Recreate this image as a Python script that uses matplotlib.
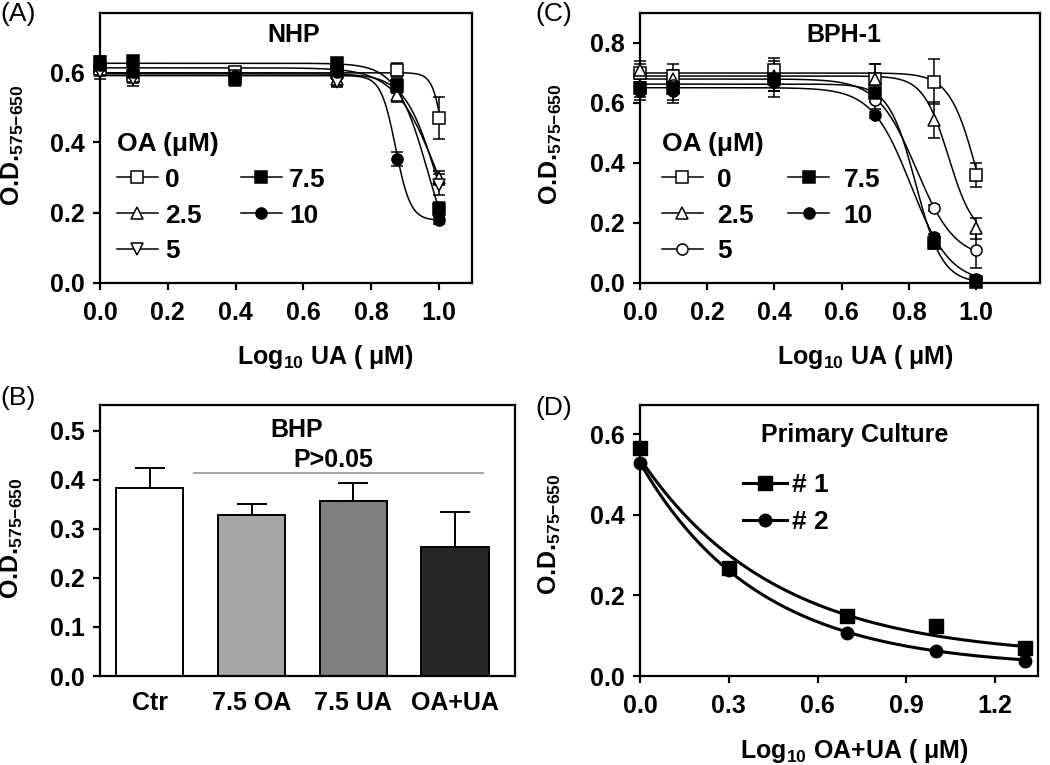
import numpy as np
import matplotlib
matplotlib.use("Agg")
import matplotlib.pyplot as plt
from matplotlib.legend_handler import HandlerTuple

# ---------------- data ----------------
log_ua = [0.0, 0.097, 0.398, 0.699, 0.875, 1.0]
oa_labels = ["0", "2.5", "5", "7.5", "10"]

# Panel A (NHP)
nhp_mean = {
    "0":   [0.61, 0.59, 0.60, 0.60, 0.605, 0.47],
    "2.5": [0.62, 0.60, 0.59, 0.58, 0.535, 0.30],
    "5":   [0.60, 0.58, 0.59, 0.572, 0.56, 0.28],
    "7.5": [0.63, 0.632, 0.58, 0.625, 0.56, 0.21],
    "10":  [0.62, 0.60, 0.59, 0.60, 0.352, 0.178],
}
nhp_err = {
    "0":   [0.02, 0.02, 0.015, 0.02, 0.02, 0.06],
    "2.5": [0.02, 0.02, 0.02, 0.02, 0.02, 0.02],
    "5":   [0.02, 0.02, 0.02, 0.015, 0.02, 0.03],
    "7.5": [0.015, 0.01, 0.02, 0.01, 0.02, 0.02],
    "10":  [0.02, 0.02, 0.02, 0.02, 0.02, 0.01],
}
# fitted 4PL parameters: top, bottom, logEC50, hill
nhp_fit = {
    "0":   [0.598, 0.0, 1.025, 25.0],
    "2.5": [0.612, 0.0, 0.9975, 6.9],
    "5":   [0.595, 0.0, 0.994, 9.1],
    "7.5": [0.625, 0.0, 0.968, 9.3],
    "10":  [0.59, 0.178, 0.872, 20.0],
}

# Panel C (BPH-1)
bph_mean = {
    "0":   [0.70, 0.69, 0.71, 0.68, 0.671, 0.36],
    "2.5": [0.71, 0.68, 0.69, 0.68, 0.543, 0.182],
    "5":   [0.65, 0.66, 0.67, 0.61, 0.249, 0.11],
    "7.5": [0.65, 0.65, 0.68, 0.632, 0.135, 0.005],
    "10":  [0.64, 0.64, 0.67, 0.56, 0.152, 0.012],
}
bph_err = {
    "0":   [0.03, 0.04, 0.04, 0.05, 0.075, 0.04],
    "2.5": [0.03, 0.03, 0.05, 0.05, 0.06, 0.035],
    "5":   [0.02, 0.03, 0.03, 0.03, 0.01, 0.06],
    "7.5": [0.03, 0.04, 0.04, 0.03, 0.02, 0.01],
    "10":  [0.03, 0.04, 0.05, 0.01, 0.01, 0.01],
}
bph_fit = {
    "0":   [0.70, 0.0, 1.007, 10.4],
    "2.5": [0.69, 0.15, 0.918, 11.5],
    "5":   [0.68, 0.08, 0.822, 7.55],
    "7.5": [0.663, 0.0, 0.82, 10.9],
    "10":  [0.651, 0.0, 0.806, 7.45],
}

# Panel B (BHP)
bhp_groups = ["Ctr", "7.5 OA", "7.5 UA", "OA+UA"]
bhp_mean = [0.383, 0.329, 0.357, 0.263]
bhp_err = [0.041, 0.023, 0.036, 0.072]
bhp_colors = ["#ffffff", "#a6a6a6", "#7f7f7f", "#262626"]
bhp_p_level = 0.415

# Panel D (Primary culture)
log_oaua = [0.0, 0.301, 0.699, 1.0, 1.301]
pc_labels = ["# 1", "# 2"]
pc_mean = {
    "# 1": [0.565, 0.267, 0.150, 0.124, 0.069],
    "# 2": [0.530, 0.262, 0.108, 0.063, 0.037],
}
# fitted one-phase decay: plateau, span, k
pc_fit = {
    "# 1": [0.045, 0.495, 2.2],
    "# 2": [0.02, 0.51, 2.49],
}

# ---------------- style ----------------
FS = 18
plt.rcParams.update({
    "font.family": ["Liberation Sans", "DejaVu Sans"],
    "font.weight": "bold",
    "font.size": FS,
    "mathtext.fontset": "custom",
    "mathtext.rm": "Liberation Sans",
    "mathtext.bf": "Liberation Sans:bold",
    "mathtext.it": "Liberation Sans:italic",
    "axes.linewidth": 1.6,
    "axes.labelweight": "bold",
    "xtick.major.width": 1.6,
    "ytick.major.width": 1.6,
    "xtick.major.size": 5,
    "ytick.major.size": 5,
    "xtick.major.pad": 8,
    "ytick.major.pad": 6,
})

W, H = 1050, 765
fig = plt.figure(figsize=(W / 100, H / 100), dpi=100)


def add_ax(l, t, r, b):
    return fig.add_axes([l / W, 1 - b / H, (r - l) / W, (b - t) / H])


def logistic(x, top, bottom, ec50, hill):
    return bottom + (top - bottom) / (1 + 10 ** ((x - ec50) * hill))


YLAB = r"O.D.$_{\mathbf{575{-}650}}$"
XLAB_UA = r"Log$_{\mathbf{10}}$ UA ( μM)"

markers_A = {"0": ("s", "white"), "2.5": ("^", "white"), "5": ("v", "white"),
             "7.5": ("s", "black"), "10": ("o", "black")}
markers_C = {"0": ("s", "white"), "2.5": ("^", "white"), "5": ("o", "white"),
             "7.5": ("s", "black"), "10": ("o", "black")}


def dose_panel(ax, means, errs, fits, mk, ylim, yticks, title, title_x, leg_anchor, colspace, textpad):
    xs = np.linspace(0, 1.0, 400)
    handles = []
    for lab in oa_labels:
        ln, = ax.plot(xs, logistic(xs, *fits[lab]), color="k", lw=1.1, zorder=2)
        m, fc = mk[lab]
        eb = ax.errorbar(log_ua, means[lab], yerr=errs[lab], fmt=m, ms=8, mfc=fc, mec="k",
                         mew=1.1, ecolor="k", elinewidth=1.1, capsize=4.5, capthick=1.1,
                         zorder=3, clip_on=False)
        for art in eb.lines[1] + eb.lines[2]:
            art.set_clip_on(False)
        handles.append((ln, eb.lines[0]))
    ax.set_xlim(0, 1.097)
    ax.set_ylim(*ylim)
    ax.set_xticks([0.0, 0.2, 0.4, 0.6, 0.8, 1.0])
    ax.set_xticklabels(["0.0", "0.2", "0.4", "0.6", "0.8", "1.0"])
    ax.set_yticks(yticks)
    ax.set_yticklabels([f"{v:.1f}" for v in yticks])
    ax.text(title_x, 0.92, title, transform=ax.transAxes, ha="center", va="center", fontsize=FS)
    ax.legend(handles, oa_labels, ncol=2, loc="upper left", bbox_to_anchor=leg_anchor,
              frameon=False, title="OA (μM)", alignment="left",
              title_fontproperties={"size": 19, "weight": "bold"},
              prop={"size": 19, "weight": "bold"}, handlelength=1.55,
              handletextpad=textpad, columnspacing=colspace, labelspacing=0.45,
              borderpad=0.0, borderaxespad=0.0,
              handler_map={tuple: HandlerTuple(ndivide=1)})
    ax.set_ylabel(YLAB, fontsize=FS)
    ax.set_xlabel(XLAB_UA, fontsize=FS)


# Panel A
axA = add_ax(100, 13, 472, 283)
dose_panel(axA, nhp_mean, nhp_err, nhp_fit, markers_A, (0, 0.768), [0.0, 0.2, 0.4, 0.6],
           "NHP", 0.52, (0.045, 0.56), 1.5, 0.27)
axA.yaxis.set_label_coords(-0.2, 0.51)
axA.xaxis.set_label_coords(0.607, -0.222)

# Panel C
axC = add_ax(640, 13, 1040, 283)
dose_panel(axC, bph_mean, bph_err, bph_fit, markers_C, (0, 0.9), [0.0, 0.2, 0.4, 0.6, 0.8],
           "BPH-1", 0.51, (0.055, 0.56), 1.3, 0.55)
axC.set_xlim(0, 1.19)
axC.yaxis.set_label_coords(-0.19, 0.515)
axC.xaxis.set_label_coords(0.5625, -0.222)

# Panel B
axB = add_ax(100, 405, 515, 676)
pos = np.arange(len(bhp_groups))
axB.bar(pos, bhp_mean, width=0.66, color=bhp_colors, edgecolor="k", linewidth=1.4, zorder=2)
axB.errorbar(pos, bhp_mean, yerr=[np.zeros(len(bhp_mean)), bhp_err], fmt="none", ecolor="k",
             elinewidth=1.4, capsize=11, capthick=1.4, zorder=1)
axB.set_xlim(-0.49, 3.59)
axB.set_ylim(0, 0.553)
axB.set_yticks([0.0, 0.1, 0.2, 0.3, 0.4, 0.5])
axB.set_yticklabels(["0.0", "0.1", "0.2", "0.3", "0.4", "0.5"])
axB.set_xticks(pos)
axB.set_xticklabels(bhp_groups, fontsize=FS)
axB.tick_params(axis="x", length=0, pad=11)
axB.hlines(bhp_p_level, 0.42, 3.29, color="#8c8c8c", lw=1.1)
axB.text(0.475, 0.908, "BHP", transform=axB.transAxes, ha="center", va="center", fontsize=FS)
axB.text(0.561, 0.797, "P>0.05", transform=axB.transAxes, ha="center", va="center", fontsize=FS)
axB.set_ylabel(YLAB, fontsize=FS)
axB.yaxis.set_label_coords(-0.18, 0.51)

# Panel D
axD = add_ax(640, 405, 1038, 676)
xsD = np.linspace(0, 1.301, 400)
hD = []
for lab, m in zip(pc_labels, ["s", "o"]):
    plat, span, k = pc_fit[lab]
    ln, = axD.plot(xsD, plat + span * np.exp(-k * xsD), color="k", lw=2.2, zorder=2)
    pts, = axD.plot(log_oaua, pc_mean[lab], m, ms=10 if m == "s" else 9, color="k",
                    zorder=3, clip_on=False)
    hD.append((ln, pts))
axD.set_xlim(0, 1.345)
axD.set_ylim(0, 0.673)
axD.set_xticks([0.0, 0.3, 0.6, 0.9, 1.2])
axD.set_xticklabels(["0.0", "0.3", "0.6", "0.9", "1.2"])
axD.set_yticks([0.0, 0.2, 0.4, 0.6])
axD.set_yticklabels(["0.0", "0.2", "0.4", "0.6"])
axD.text(0.54, 0.889, "Primary Culture", transform=axD.transAxes, ha="center", va="center",
         fontsize=FS)
axD.legend(hD, pc_labels, loc="upper left", bbox_to_anchor=(0.26, 0.75), frameon=False,
           prop={"size": 19, "weight": "bold"}, handlelength=1.65, handletextpad=0.2,
           labelspacing=0.5, borderpad=0.0, borderaxespad=0.0,
           handler_map={tuple: HandlerTuple(ndivide=1)})
axD.set_ylabel(YLAB, fontsize=FS)
axD.yaxis.set_label_coords(-0.193, 0.524)
axD.set_xlabel(r"Log$_{\mathbf{10}}$ OA+UA ( μM)", fontsize=FS)
axD.xaxis.set_label_coords(0.538, -0.225)

# panel letters
for s, x, y in [("(A)", 0, 14), ("(C)", 535, 14), ("(B)", 0, 398), ("(D)", 535, 408)]:
    fig.text(x / W, 1 - y / H, s, ha="left", va="center", fontsize=19, fontweight="normal")

fig.savefig("out.png", dpi=100)
